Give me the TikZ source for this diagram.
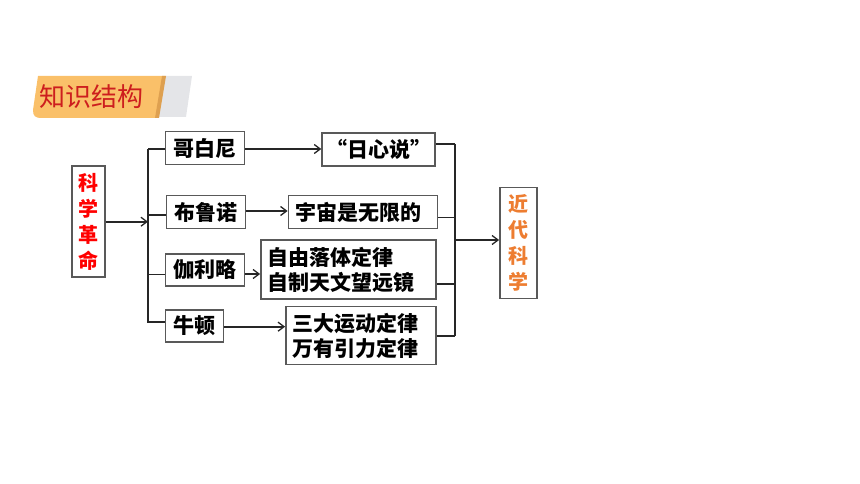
\documentclass[tikz,border=0pt]{standalone}
\usepackage{fontspec}
\setmainfont{Noto Sans CJK SC}
\usetikzlibrary{arrows.meta,calc}
\definecolor{boxgray}{RGB}{89,89,89}
\definecolor{linegray}{RGB}{38,38,38}
\definecolor{hdrorange}{RGB}{250,192,105}
\definecolor{hdrdark}{RGB}{222,160,80}
\definecolor{hdrgray}{RGB}{228,229,232}
\definecolor{hdrred}{RGB}{205,30,30}
\definecolor{kxred}{RGB}{255,0,0}
\definecolor{jdorange}{RGB}{237,125,49}
\tikzset{
  boxnode/.style={draw=boxgray, line width=1.4pt, inner sep=0pt, align=left,
    font=\bfseries\fontsize{21}{25}\selectfont},
  conn/.style={draw=linegray, line width=1.6pt},
  arr/.style={conn, -{Straight Barb[length=6pt,width=9pt,line width=1.3pt]}},
}
\begin{document}
\begin{tikzpicture}[x=1pt,y=-1pt]
\useasboundingbox (0,0) rectangle (860,484);
% header banner
\fill[hdrgray] (165,76) -- (192,76) -- (186,117) -- (158,117) -- cycle;
\fill[hdrorange] (38,76) -- (165,76) -- (158,118) -- (42,118)
   .. controls (35,118) and (33,116) .. (33,110) -- cycle;
\fill[hdrdark] (162,76) -- (166,76) -- (159,118) -- (155,118) -- cycle;
\node[anchor=west, inner sep=0pt, text=hdrred, font=\fontsize{26}{26}\selectfont] (hdr) at (39,97) {知识结构};
% left node
\node[boxnode, minimum width=33pt, minimum height=111pt, align=center, text=kxred,
      font=\bfseries\fontsize{20}{26}\selectfont] (kx) at (88.5,221.5) {科\\学\\革\\命};
% people
\node[boxnode, minimum width=79pt, minimum height=33pt, align=center] (kbn) at (204.7,148) {哥白尼};
\node[boxnode, minimum width=79pt, minimum height=33pt, align=center] (bln) at (205.7,212) {布鲁诺};
\node[boxnode, minimum width=79pt, minimum height=32pt, align=center] (jll) at (204.8,270) {伽利略};
\node[boxnode, minimum width=58pt, minimum height=32pt, align=center] (nd) at (194.3,326) {牛顿};
% achievements
\node[boxnode, minimum width=113pt, minimum height=33pt, align=center] (rxs) at (378.5,149.5) {“日心说”};
\node[boxnode, minimum width=149pt, minimum height=33pt, text width=135pt] (yz) at (362.8,212) {宇宙是无限的};
\node[boxnode, minimum width=175pt, minimum height=59pt, text width=161pt] (zy) at (348.3,269.5) {自由落体定律\\自制天文望远镜};
\node[boxnode, minimum width=150pt, minimum height=58pt, text width=136pt] (sd) at (360.8,335.5) {三大运动定律\\万有引力定律};
% right node
\node[boxnode, minimum width=37pt, minimum height=111pt, align=center, text=jdorange,
      font=\bfseries\fontsize{20}{26}\selectfont] (jd) at (518.3,242.8) {近\\代\\科\\学};
% left trunk
\coordinate (tl) at (148,149);
\coordinate (tb) at (148,323);
\coordinate (tm) at (148,221.7);
\coordinate (b2) at (148,215);
\coordinate (b3) at (148,274.3);
\coordinate (b4) at (148,322);
\draw[arr] (kx.east |- tm) -- (tm);
\draw[conn] (tl) -- (tb);
\draw[conn] (tl) -- (tl -| kbn.west);
\draw[conn] (b2) -- (b2 -| bln.west);
\draw[conn] (b3) -- (b3 -| jll.west);
\draw[conn] (b4) -- (b4 -| nd.west);
% arrows to achievements
\coordinate (a1) at (0,149);
\coordinate (a2) at (0,211);
\coordinate (a3) at (0,274);
\coordinate (a4) at (0,326.7);
\draw[arr] (kbn.east |- a1) -- (rxs.west |- a1);
\draw[arr] (bln.east |- a2) -- (yz.west |- a2);
\draw[arr] (jll.east |- a3) -- (zy.west |- a3);
\draw[arr] (nd.east |- a4) -- (sd.west |- a4);
% right bracket
\coordinate (rt) at (455,144);
\coordinate (r2) at (455,217.3);
\coordinate (r3) at (455,283.7);
\coordinate (rb) at (455,336);
\coordinate (rm) at (455,240);
\draw[conn] (rt) -- (rb);
\draw[conn] (rxs.east |- rt) -- (rt);
\draw[conn] (yz.east |- r2) -- (r2);
\draw[conn] (zy.east |- r3) -- (r3);
\draw[conn] (sd.east |- rb) -- (rb);
\draw[arr] (rm) -- (rm -| jd.west);
\end{tikzpicture}
\end{document}
